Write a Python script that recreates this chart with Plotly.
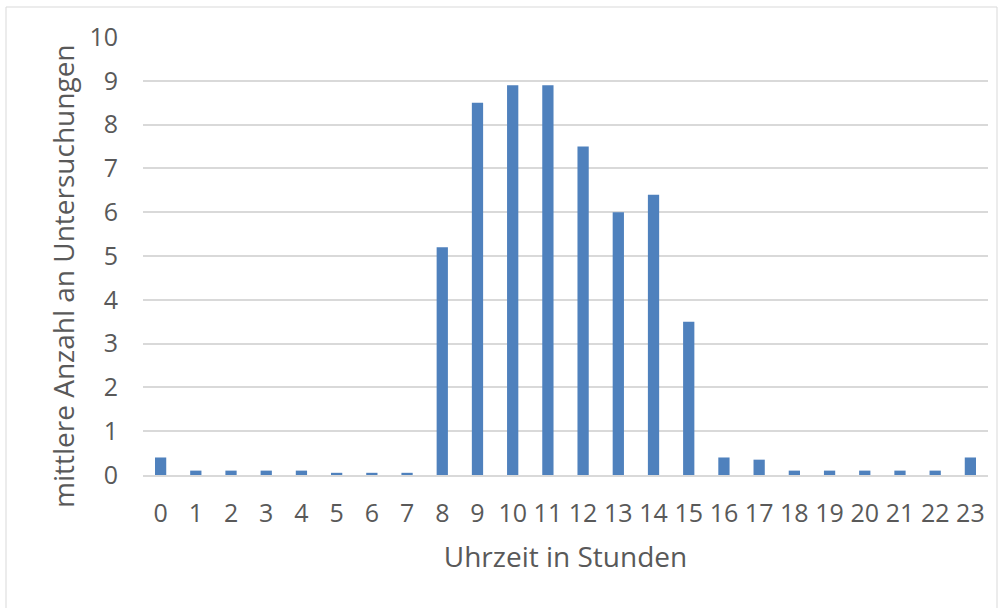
import plotly.graph_objects as go

hours = [str(h) for h in range(24)]
values = [0.4, 0.1, 0.1, 0.1, 0.1, 0.05, 0.05, 0.05, 5.2, 8.5, 8.9, 8.9, 7.5, 6.0, 6.4, 3.5,
          0.4, 0.35, 0.1, 0.1, 0.1, 0.1, 0.1, 0.4]
y_ticks = list(range(0, 11))

W, H = 1001, 608
L, T = 143, 37
R = W - 988
B = H - 475
pw, ph = W - L - R, H - T - B

fig = go.Figure(go.Bar(x=hours, y=values, marker=dict(color="#4f81bd", line=dict(width=0)), width=0.32))

font = "'Open Sans', sans-serif"
fig.update_layout(
    width=W, height=H,
    margin=dict(l=L, r=R, t=T, b=B),
    paper_bgcolor="white", plot_bgcolor="white",
    showlegend=False,
    font=dict(family=font, color="#595959", size=25),
    xaxis=dict(type="category", showgrid=False, showline=True, linecolor="#d9d9d9", linewidth=2,
               ticks="", ticklabelstandoff=15, tickfont=dict(size=25, color="#595959"),
               title=dict(text="Uhrzeit in Stunden", font=dict(size=28, color="#595959"), standoff=19)),
    yaxis=dict(range=[0, 10], tickvals=y_ticks, showgrid=True, gridcolor="#d9d9d9", gridwidth=2,
               zeroline=False, ticks="", ticklabelstandoff=24,
               tickfont=dict(size=25, color="#595959")),
    bargap=0.68,
)

fig.add_annotation(text="mittlere Anzahl an Untersuchungen", textangle=-90,
                   xref="paper", yref="paper",
                   x=(63 - L) / pw, y=(475 - 276) / ph,
                   xanchor="center", yanchor="middle", showarrow=False,
                   font=dict(size=28, color="#595959", family=font))

fig.add_shape(type="rect", xref="paper", yref="paper",
              x0=(6 - L) / pw, x1=(997 - L) / pw,
              y0=(H - B - 615) / ph, y1=(H - B - 7) / ph,
              line=dict(color="#d9d9d9", width=1), fillcolor="rgba(0,0,0,0)", layer="below")

fig.write_html("out.html", config={"displayModeBar": False},
               post_script="document.body.style.margin='0';")
